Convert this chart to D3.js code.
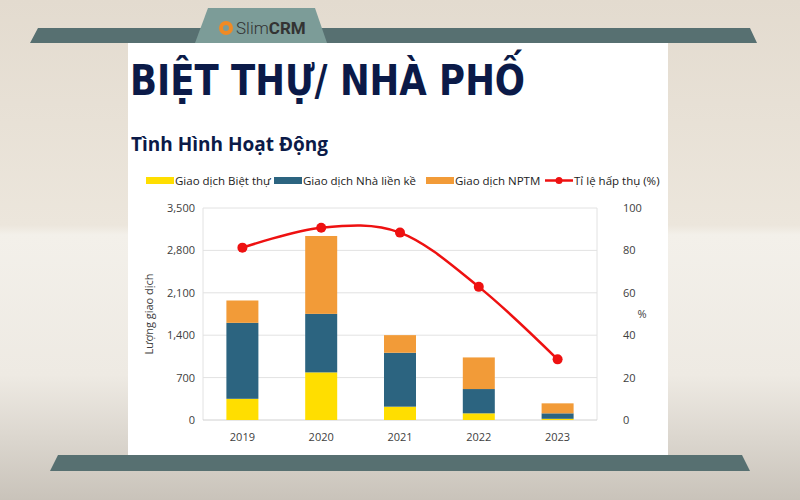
<!DOCTYPE html><html><head><meta charset="utf-8"><script src="https://cdn.jsdelivr.net/npm/d3@7"></script>
<style>body{margin:0}svg{display:block}</style></head><body><svg id="c" width="800" height="500"></svg>
<script>
const years=["2019","2020","2021","2022","2023"];
const bietThu=[350,786,220,110,20];
const nhaLienKe=[1254,966,890,401,90];
const nptm=[369,1286,291,522,165];
const tiLe=[81.3,90.7,88.4,62.8,28.6];
const leftTicks=[0,700,1400,2100,2800,3500];
const rightTicks=[0,20,40,60,80,100];
const seriesNames=["Giao dịch Biệt thự","Giao dịch Nhà liền kề","Giao dịch NPTM","Tỉ lệ hấp thụ (%)"];
const colors=["#ffde00","#2c6480","#f29b38","#ee1111"];

const svg=d3.select("#c");
const defs=svg.append("defs");
const g=defs.append("linearGradient").attr("id","bg").attr("x1",0).attr("y1",0).attr("x2",0).attr("y2",1);
[[0,"#e3dbcf"],[0.45,"#ece6dc"],[0.47,"#f3f0ea"],[0.75,"#eeeae3"],[1,"#c9c3ba"]].forEach(s=>g.append("stop").attr("offset",s[0]).attr("stop-color",s[1]));
svg.append("rect").attr("width",800).attr("height",500).attr("fill","url(#bg)");
svg.append("rect").attr("x",128).attr("y",42).attr("width",540).attr("height",415).attr("fill","#fff");
svg.append("path").attr("d","M38,28 L750,28 L757,43 L30,43 Z").attr("fill","#577071");
svg.append("path").attr("d","M208,8 L315,8 L327,43 L195,43 Z").attr("fill","#7c9c98");
svg.append("circle").attr("cx",226).attr("cy",28).attr("r",7).attr("fill","#f08a24");
svg.append("circle").attr("cx",226).attr("cy",28).attr("r",3).attr("fill","#7c9c98");
svg.append("text").attr("x",236).attr("y",34).attr("font-family","Roboto").attr("font-size",17).attr("fill","#333")
 .html('<tspan font-weight="300">Slim</tspan><tspan font-weight="bold">CRM</tspan>');
svg.append("path").attr("d","M58,455 L742,455 L750,471 L50,471 Z").attr("fill","#577071");

svg.append("text").attr("x",130).attr("y",95).attr("font-family","DejaVu Sans Condensed").attr("font-weight","bold")
 .attr("font-size",42).attr("fill","#0b1a48").attr("textLength",395).attr("lengthAdjust","spacingAndGlyphs").text("BIỆT THỰ/ NHÀ PHỐ");
svg.append("text").attr("x",131).attr("y",151).attr("font-family","Open Sans").attr("font-weight","bold")
 .attr("font-size",19).attr("fill","#0b1a48").text("Tình Hình Hoạt Động");

const X0=203,X1=597,Y0=420,Y1=208;
const x=d3.scaleBand().domain(years).range([X0,X1]);
const y=d3.scaleLinear().domain([0,3500]).range([Y0,Y1]);
const y2=d3.scaleLinear().domain([0,100]).range([Y0,Y1]);
const font="Open Sans";
svg.append("g").selectAll("line").data(leftTicks.slice(1)).join("line")
 .attr("x1",X0).attr("x2",X1).attr("y1",d=>y(d)).attr("y2",d=>y(d)).attr("stroke","#e2e2e2");
svg.append("line").attr("x1",X0).attr("x2",X0).attr("y1",Y1).attr("y2",Y0).attr("stroke","#e2e2e2");
svg.append("line").attr("x1",X1).attr("x2",X1).attr("y1",Y1).attr("y2",Y0).attr("stroke","#e2e2e2");
svg.append("line").attr("x1",X0).attr("x2",X1).attr("y1",Y0).attr("y2",Y0).attr("stroke","#d0d0d0");

const stack=d3.stack().keys([0,1,2]).value((d,k)=>d[k])(years.map((yr,i)=>[bietThu[i],nhaLienKe[i],nptm[i]]));
const bw=32;
stack.forEach((s,k)=>svg.append("g").selectAll("rect").data(s).join("rect")
 .attr("x",(d,i)=>x(years[i])+x.bandwidth()/2-bw/2).attr("width",bw)
 .attr("y",d=>y(d[1])).attr("height",d=>y(d[0])-y(d[1])).attr("fill",colors[k]));

const lineData=years.map((yr,i)=>[x(yr)+x.bandwidth()/2,y2(tiLe[i])]);
svg.append("path").attr("d",d3.line().curve(d3.curveCardinal.tension(0))(lineData)).attr("fill","none").attr("stroke",colors[3]).attr("stroke-width",2.5);
svg.append("g").selectAll("circle").data(lineData).join("circle").attr("cx",d=>d[0]).attr("cy",d=>d[1]).attr("r",5).attr("fill",colors[3]);

const ax=g=>g.attr("font-family",font).attr("font-size",11).attr("fill","#404040");
svg.append("g").call(ax).selectAll("text").data(leftTicks).join("text").attr("x",X0-8).attr("y",d=>y(d)+4).attr("text-anchor","end").text(d3.format(","));
svg.append("g").call(ax).selectAll("text").data(rightTicks).join("text").attr("x",X1+26).attr("y",d=>y2(d)+4).attr("text-anchor","start").text(d=>d);
svg.append("g").call(ax).selectAll("text").data(years).join("text").attr("x",d=>x(d)+x.bandwidth()/2).attr("y",441).attr("text-anchor","middle").text(d=>d);
svg.append("text").call(ax).attr("transform","translate(153,314) rotate(-90)").attr("text-anchor","middle").text("Lượng giao dịch");
svg.append("text").call(ax).attr("x",642).attr("y",318).attr("text-anchor","middle").text("%");

const lx=[146,274,426,545];
seriesNames.forEach((n,i)=>{
 const lg=svg.append("g");
 if(i<3) lg.append("rect").attr("x",lx[i]).attr("y",177).attr("width",28).attr("height",7).attr("fill",colors[i]);
 else {lg.append("line").attr("x1",lx[i]).attr("x2",lx[i]+28).attr("y1",180.5).attr("y2",180.5).attr("stroke",colors[3]).attr("stroke-width",2.5);
   lg.append("circle").attr("cx",lx[i]+14).attr("cy",180.5).attr("r",3.5).attr("fill",colors[3]);}
 lg.append("text").call(ax).attr("font-size",11.5).attr("x",lx[i]+29).attr("y",185).attr("fill","#222").text(n);
});
</script></body></html>
